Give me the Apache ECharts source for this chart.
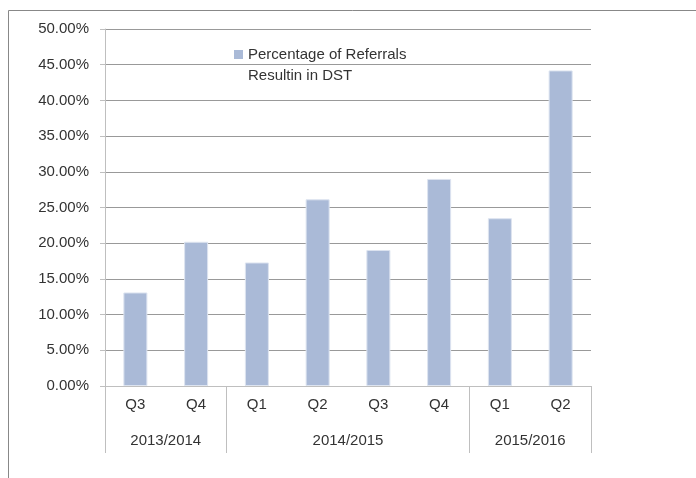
<!DOCTYPE html>
<html>
<head>
<meta charset="utf-8">
<script src="https://cdn.jsdelivr.net/npm/echarts@6/dist/echarts.min.js"></script>
<style>
  html, body { margin: 0; padding: 0; background: #fff; }
  #chart { width: 696px; height: 478px; }
</style>
</head>
<body>
<div id="chart"></div>
<script>
const quarters = ["Q3", "Q4", "Q1", "Q2", "Q3", "Q4", "Q1", "Q2"];
const years = ["2013/2014", "2014/2015", "2015/2016"];
const yearSpans = [2, 4, 2];
const referralPct = [13.1, 20.2, 17.3, 26.15, 19.05, 29.0, 23.5, 44.2];
const seriesName = "Percentage of Referrals\nResultin in DST";

// group label centres and separator positions, in category units
const yearCentres = [];
const yearBounds = [0];
let acc = 0;
for (let i = 0; i < yearSpans.length; i++) {
  yearCentres.push(acc + yearSpans[i] / 2);
  acc += yearSpans[i];
  yearBounds.push(acc);
}

const font = "Liberation Sans";
const textColor = "#333";

const chart = echarts.init(document.getElementById("chart"));

const option = {
  animation: false,
  grid: { left: 105, right: 105, top: 29, bottom: 92 },
  legend: {
    left: 234,
    top: 23,
    padding: 0,
    itemWidth: 9,
    itemHeight: 9,
    icon: "rect",
    data: [seriesName],
    itemStyle: { borderWidth: 0 },
    // blank first line keeps the icon level with the first text line
    formatter: function (name) {
      return " \n" + name;
    },
    textStyle: {
      fontFamily: font,
      fontSize: 15,
      color: textColor,
      lineHeight: 21
    }
  },
  xAxis: [
    {
      type: "category",
      data: quarters,
      position: "bottom",
      axisLine: { lineStyle: { color: "#bfbfbf" } },
      axisTick: { interval: 0, length: 34, lineStyle: { color: "#bfbfbf" } },
      axisLabel: {
        interval: 0,
        margin: 11,
        fontFamily: font,
        fontSize: 15,
        color: textColor
      }
    },
    {
      type: "value",
      position: "bottom",
      min: 0,
      max: quarters.length,
      axisLine: { show: false },
      splitLine: { show: false },
      axisTick: {
        show: true,
        customValues: yearBounds,
        length: 67,
        lineStyle: { color: "#bfbfbf" }
      },
      axisLabel: {
        customValues: yearCentres,
        margin: 47,
        fontFamily: font,
        fontSize: 15,
        color: textColor,
        formatter: function (v) {
          const i = yearCentres.indexOf(v);
          return i >= 0 ? years[i] : "";
        }
      }
    }
  ],
  yAxis: {
    type: "value",
    min: 0,
    max: 50,
    interval: 5,
    axisLine: { show: true, lineStyle: { color: "#bfbfbf" } },
    axisTick: { show: true, length: 5, lineStyle: { color: "#bfbfbf" } },
    splitLine: { lineStyle: { color: "#999" } },
    axisLabel: {
      margin: 16,
      fontFamily: font,
      fontSize: 15,
      color: textColor,
      formatter: function (v) {
        return v.toFixed(2) + "%";
      }
    }
  },
  series: [
    {
      name: seriesName,
      type: "bar",
      xAxisIndex: 0,
      data: referralPct,
      barWidth: 24,
      itemStyle: {
        color: "#aabad7",
        borderColor: "#dde4f0",
        borderWidth: 1
      }
    }
  ],
  graphic: [
    {
      type: "rect",
      shape: { x: 8.5, y: 10.5, width: 900, height: 700 },
      style: { fill: "none", stroke: "#888", lineWidth: 1 },
      silent: true
    }
  ]
};

chart.setOption(option);
</script>
</body>
</html>
